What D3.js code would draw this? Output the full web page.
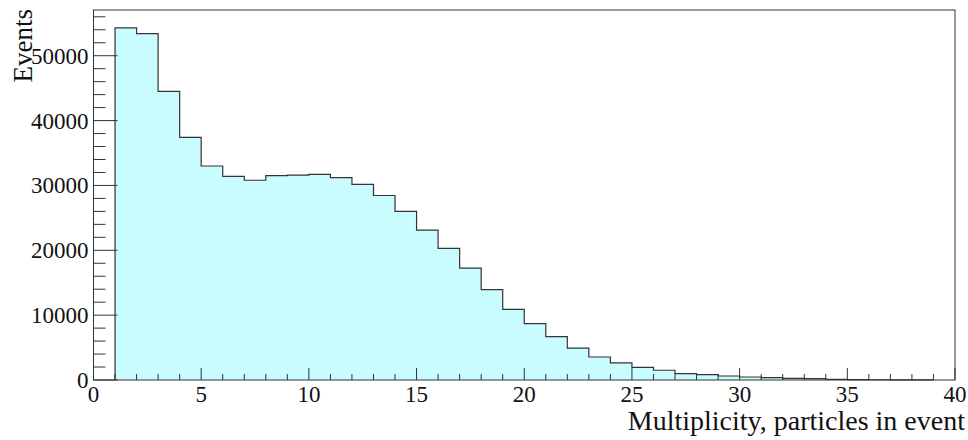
<!DOCTYPE html>
<html>
<head>
<meta charset="utf-8">
<script src="https://cdn.jsdelivr.net/npm/d3@7"></script>
<style>
  body { margin: 0; background: #fff; }
  svg text { font-family: "Liberation Serif", "DejaVu Serif", serif; fill: #111; }
</style>
</head>
<body>
<div id="chart"></div>
<script>
// histogram data: bins of width 1, starting at 1
var binStarts = [1, 2, 3, 4, 5, 6, 7, 8, 9, 10, 11, 12, 13, 14, 15, 16, 17, 18, 19, 20,
                 21, 22, 23, 24, 25, 26, 27, 28, 29, 30, 31, 32, 33, 34, 35, 36, 37, 38];
var counts = [54300, 53400, 44500, 37400, 33000, 31400, 30800, 31500, 31600, 31700,
              31200, 30150, 28450, 26000, 23100, 20300, 17250, 13950, 10900, 8700,
              6700, 4900, 3550, 2650, 1950, 1500, 980, 820, 620, 460,
              360, 260, 200, 110, 70, 40, 25, 10];
var xTicks = [0, 5, 10, 15, 20, 25, 30, 35, 40];
var yTicks = [0, 10000, 20000, 30000, 40000, 50000];

var width = 968, height = 440;
var margin = {top: 10, right: 13, bottom: 60, left: 93.5};

var svg = d3.select("#chart").append("svg")
  .attr("width", width)
  .attr("height", height);

var x = d3.scaleLinear().domain([0, 40]).range([margin.left, width - margin.right]);
var y = d3.scaleLinear().domain([0, 57050]).range([height - margin.bottom, margin.top]);

// histogram outline as a step path
var pts = [];
pts.push([x(binStarts[0]), y(0)]);
binStarts.forEach(function(b, i) {
  pts.push([x(b), y(counts[i])]);
  pts.push([x(b + 1), y(counts[i])]);
});
pts.push([x(binStarts[binStarts.length - 1] + 1), y(0)]);

svg.append("path")
  .attr("d", d3.line()(pts) + "Z")
  .attr("fill", "#c9fcff")
  .attr("stroke", "none");

svg.append("path")
  .attr("d", d3.line()(pts))
  .attr("fill", "none")
  .attr("stroke", "#333")
  .attr("stroke-width", 1.2);

// frame
svg.append("rect")
  .attr("x", x(0)).attr("y", y.range()[1])
  .attr("width", x(40) - x(0))
  .attr("height", y(0) - y.range()[1])
  .attr("fill", "none")
  .attr("stroke", "#333")
  .attr("stroke-width", 1);

// x ticks (inside, pointing up)
var xMinor = d3.range(0, 41, 1);
svg.selectAll(".xtick").data(xMinor).enter().append("line")
  .attr("x1", function(d) { return x(d); })
  .attr("x2", function(d) { return x(d); })
  .attr("y1", y(0))
  .attr("y2", function(d) { return y(0) - (d % 5 === 0 ? 12 : 6); })
  .attr("stroke", "#333");

// y ticks (inside, pointing right)
var yMinor = d3.range(0, 57001, 2000);
svg.selectAll(".ytick").data(yMinor).enter().append("line")
  .attr("x1", x(0))
  .attr("x2", function(d) { return x(0) + (d % 10000 === 0 ? 24 : 12); })
  .attr("y1", function(d) { return y(d); })
  .attr("y2", function(d) { return y(d); })
  .attr("stroke", "#333");

// tick labels
svg.selectAll(".xlab").data(xTicks).enter().append("text")
  .attr("x", function(d) { return x(d); })
  .attr("y", y(0) + 22)
  .attr("text-anchor", "middle")
  .style("font-size", "23px")
  .text(function(d) { return d; });

svg.selectAll(".ylab").data(yTicks).enter().append("text")
  .attr("x", x(0) - 5)
  .attr("y", function(d) { return y(d) + 8; })
  .attr("text-anchor", "end")
  .style("font-size", "23px")
  .text(function(d) { return d; });

// axis titles
svg.append("text")
  .attr("x", 965)
  .attr("y", 430)
  .attr("text-anchor", "end")
  .style("font-size", "28px")
  .text("Multiplicity, particles in event");

svg.append("text")
  .attr("transform", "translate(32,9) rotate(-90)")
  .attr("text-anchor", "end")
  .style("font-size", "27px")
  .text("Events");
</script>
</body>
</html>
